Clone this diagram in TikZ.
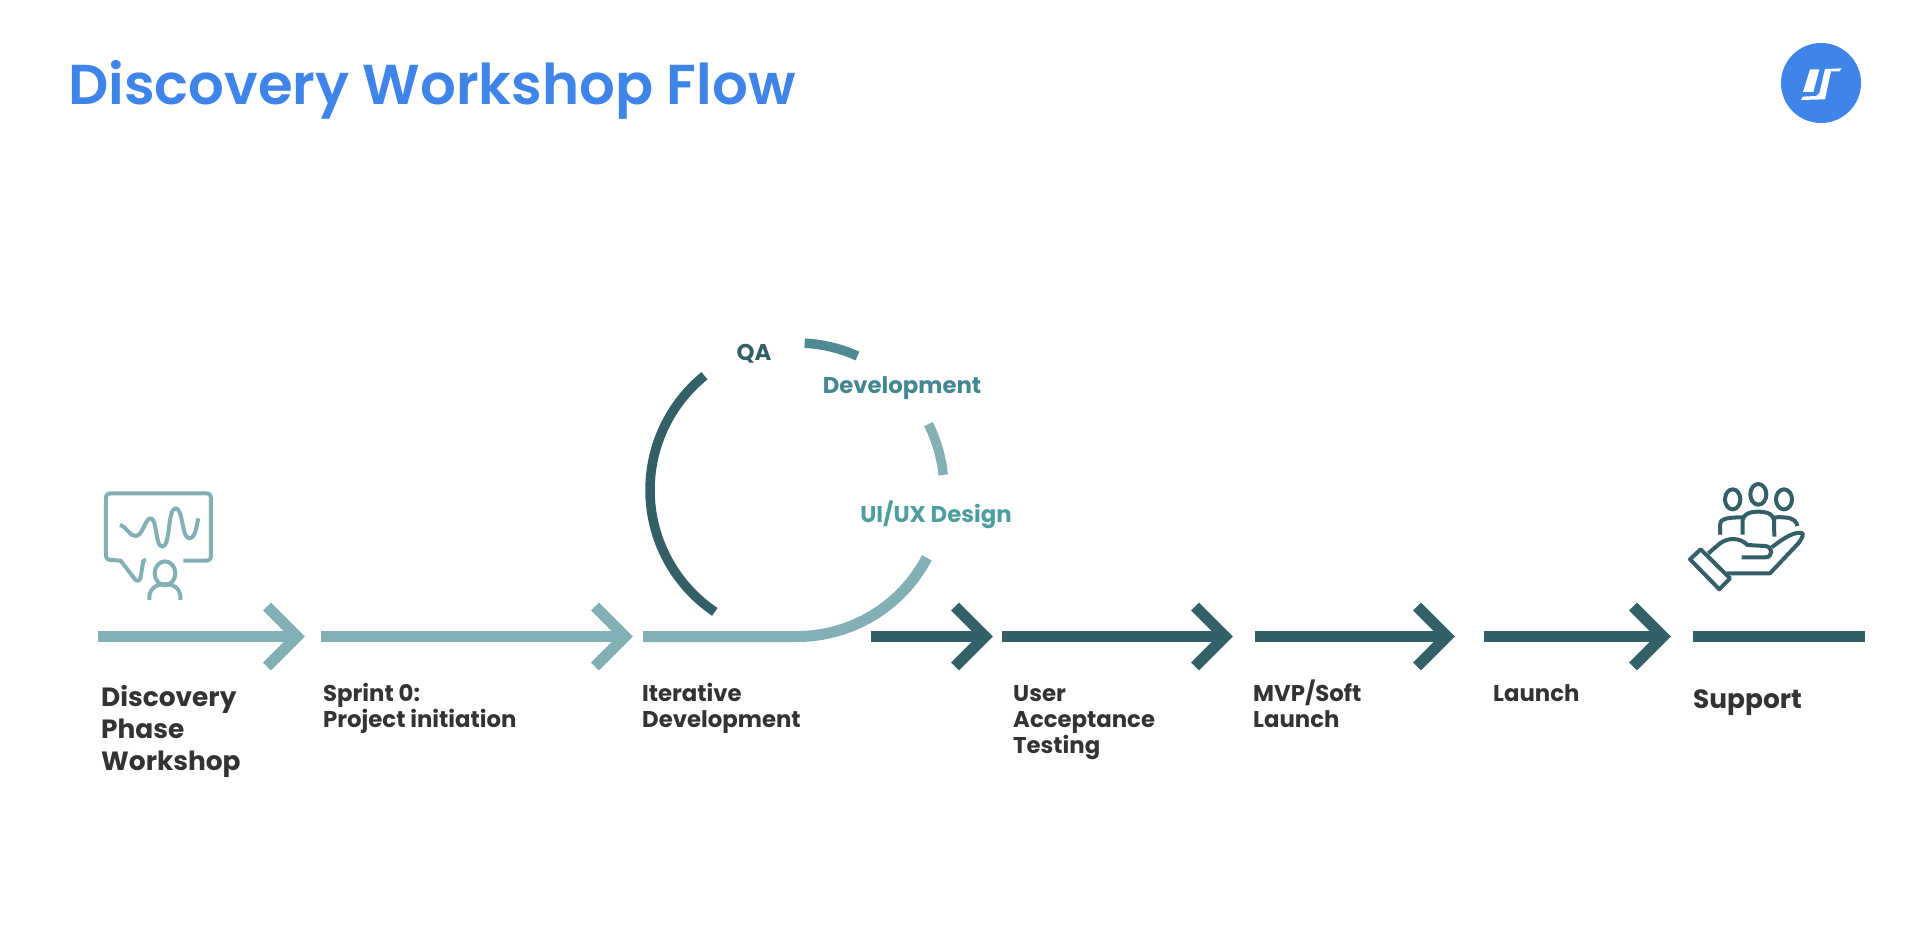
\documentclass[tikz,border=0pt]{standalone}
\usepackage{fontspec}
\setmainfont{Poppins}[BoldFont={Poppins Bold}]
\newfontfamily\titlefont{Poppins SemiBold}
\definecolor{lightteal}{HTML}{82B0B4}
\definecolor{darkteal}{HTML}{335F66}
\definecolor{midteal}{HTML}{4F8A94}
\definecolor{brandblue}{HTML}{3F84E8}
\definecolor{labelgrey}{HTML}{333333}
\tikzset{
  shaft/.style={line width=11pt,line cap=butt},
  headstroke/.style={line width=11pt,line cap=butt,miter limit=10},
  iconline/.style={line width=4pt,line cap=butt,line join=round},
  biglabel/.style={anchor=base west,align=left,font=\bfseries\fontsize{26.4}{32}\selectfont,text=labelgrey,inner sep=0pt},
  smalllabel/.style={anchor=base west,align=left,font=\bfseries\fontsize{22.8}{26}\selectfont,text=labelgrey,inner sep=0pt},
  looplabel/.style={anchor=center,font=\bfseries\fontsize{22.8}{26}\selectfont,inner sep=0pt},
}
\newcommand{\flowarrow}[4]{% colour, start, tip, name
  \coordinate (#4s) at (#2,-636.5);
  \coordinate (#4e) at (#3-6,-636.5);
  \draw[#1,shaft] (#4s) -- (#4e);
  \draw[#1,headstroke] (#3-38,-606.5) -- (#3-8,-636.5) -- (#3-38,-666.5);
}
\begin{document}
\begin{tikzpicture}[x=1pt,y=1pt]
\useasboundingbox (0,0) rectangle (1920,-924);
\fill[white] (0,0) rectangle (1920,-924);
% title
\node[anchor=base west,inner sep=0pt,text=brandblue,font=\titlefont\fontsize{56.2}{60}\selectfont] (title) at (68,-104) {Discovery Workshop Flow};
% logo
\fill[brandblue] (1821,-83) circle (40);
\begin{scope}[shift={(1760,-30)},x=0.3333pt,y=-0.3333pt]
  \fill[white] (150,118) -- (178,118) -- (160,186) -- (129,186) -- cycle;
  \fill[white] (195,117) -- (245,115) -- (238,124) -- (213,124) -- (195,208) -- (123,210) -- (128,200) -- (168,198) -- (178,190) -- cycle;
\end{scope}
% arrows
\flowarrow{lightteal}{98}{305}{a}
\flowarrow{lightteal}{321}{633}{b}
\flowarrow{darkteal}{871}{993}{d}
\flowarrow{darkteal}{1002}{1233}{e}
\flowarrow{darkteal}{1255}{1455}{f}
\flowarrow{darkteal}{1484}{1671}{g}
\coordinate (hs) at (1693,-636.5);
\coordinate (he) at (1865,-636.5);
\draw[darkteal,shaft] (hs) -- (he);
% loop
\coordinate (loopc) at (797,-490);
\coordinate (cs) at (643,-636.5);
\draw[lightteal,shaft] (cs) -- (797,-636.5) arc[start angle=270,end angle=332.4,radius=146.5];
\draw[darkteal,line width=9.5pt] (loopc) ++(236:147) arc[start angle=236,end angle=129,radius=147];
\draw[midteal,line width=9.5pt] (loopc) ++(87:147) arc[start angle=87,end angle=65.7,radius=147];
\draw[lightteal,line width=9.5pt] (loopc) ++(26.6:147) arc[start angle=26.6,end angle=5.9,radius=147];
\node[looplabel,text=darkteal] (qa) at (754,-354) {QA};
\node[looplabel,text=midteal!85!teal] (dev) at (902,-388) {Development};
\node[looplabel,text=lightteal!60!teal] (ui) at (936,-515) {UI/UX Design};
% labels
\node[biglabel] (l1) at (101,-770) {Discovery\\Phase\\Workshop};
\node[smalllabel] (l2) at (323,-727) {Sprint 0:\\Project initiation};
\node[smalllabel] (l3) at (642,-727) {Iterative\\Development};
\node[smalllabel] (l4) at (1013,-753) {User\\Acceptance\\Testing};
\node[smalllabel] (l5) at (1253,-727) {MVP/Soft\\Launch};
\node[smalllabel] (l6) at (1493,-701) {Launch};
\node[biglabel] (l7) at (1693,-708) {Support};
% discovery icon
\begin{scope}[shift={(80,-470)},x=0.3333pt,y=-0.3333pt]
  \draw[lightteal,iconline] (310,272) -- (378,272) .. controls (388,272) and (393,267) .. (393,257) -- (393,85) .. controls (393,75) and (388,70) .. (378,70) -- (93,70) .. controls (83,70) and (78,75) .. (78,85) -- (78,255) .. controls (78,265) and (83,270) .. (93,270) -- (122,272) -- (165,328) .. controls (172,336) and (180,332) .. (182,322) -- (190,272) -- (198,270);
  \draw[lightteal,iconline] (120,165) .. controls (140,170) and (150,200) .. (168,198) .. controls (190,195) and (195,145) .. (212,145) .. controls (232,145) and (225,230) .. (247,230) .. controls (272,230) and (262,115) .. (287,115) .. controls (310,115) and (305,205) .. (328,205) .. controls (345,205) and (350,170) .. (355,145);
  \draw[lightteal,iconline] (255,310) ellipse[x radius=31,y radius=36];
  \draw[lightteal,iconline] (208,390) .. controls (205,360) and (225,342) .. (255,342) .. controls (285,342) and (305,360) .. (301,390);
\end{scope}
% support icon
\begin{scope}[shift={(1660,-460)},x=0.3333pt,y=-0.3333pt]
  \draw[darkteal,iconline] (218,118) ellipse[x radius=23,y radius=30];
  \draw[darkteal,iconline] (295,103) ellipse[x radius=24,y radius=31];
  \draw[darkteal,iconline] (372,118) ellipse[x radius=24,y radius=30];
  \draw[darkteal,iconline] (180,224) -- (180,195) .. controls (180,178) and (195,172) .. (250,172);
  \draw[darkteal,iconline] (248,224) -- (248,180) .. controls (250,165) and (265,155) .. (295,155) .. controls (325,155) and (340,165) .. (342,180) -- (343,230);
  \draw[darkteal,iconline] (345,172) .. controls (385,170) and (408,175) .. (412,198);
  \draw[darkteal,iconline] (122,268) -- (90,298) -- (178,388) -- (210,355) -- cycle;
  \draw[darkteal,iconline] (145,280) -- (180,250) .. controls (205,232) and (240,232) .. (262,255) -- (315,258) .. controls (340,260) and (340,292) .. (315,292) -- (245,292);
  \draw[darkteal,iconline] (200,340) -- (330,340) -- (415,250) .. controls (425,238) and (430,225) .. (428,220) .. controls (405,212) and (370,235) .. (335,262);
\end{scope}
\end{tikzpicture}
\end{document}
